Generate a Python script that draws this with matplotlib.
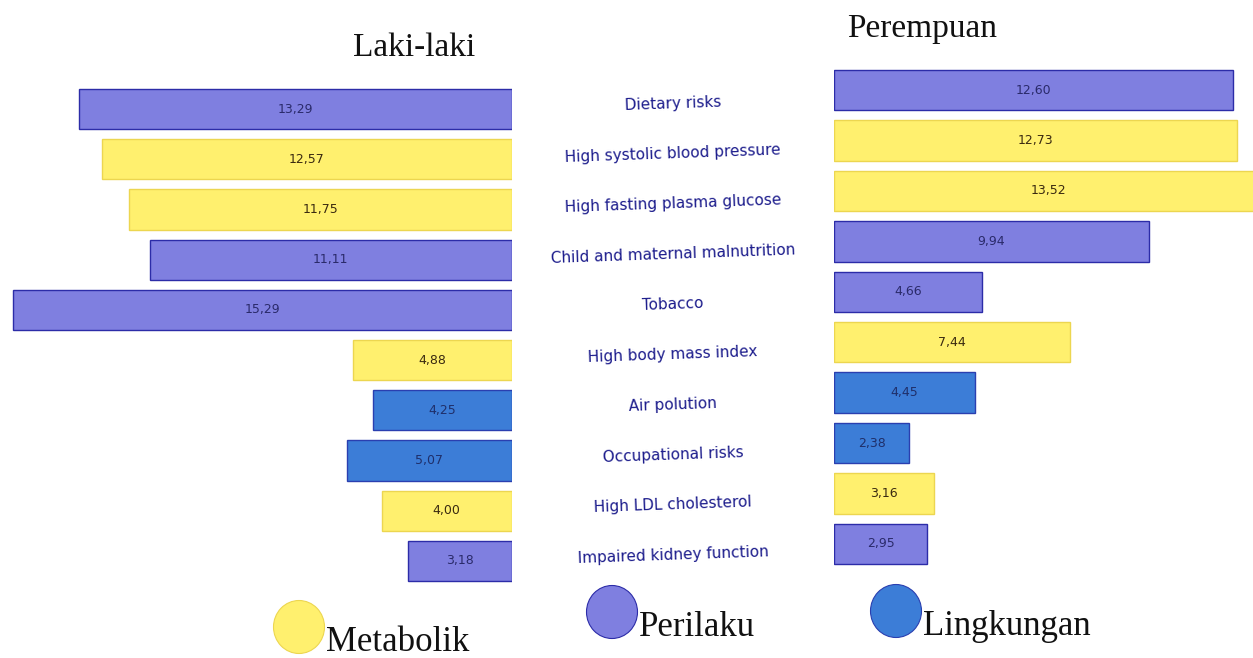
import matplotlib
matplotlib.use("Agg")
import matplotlib.pyplot as plt
from matplotlib.patches import Ellipse

# risk factors, top to bottom
kategori = ["Dietary risks", "High systolic blood pressure", "High fasting plasma glucose",
            "Child and maternal malnutrition", "Tobacco", "High body mass index",
            "Air polution", "Occupational risks", "High LDL cholesterol",
            "Impaired kidney function"]
laki = [13.29, 12.57, 11.75, 11.11, 15.29, 4.88, 4.25, 5.07, 4.00, 3.18]
perempuan = [12.60, 12.73, 13.52, 9.94, 4.66, 7.44, 4.45, 2.38, 3.16, 2.95]
# M = metabolik, P = perilaku, L = lingkungan
jenis = ["P", "M", "M", "P", "P", "M", "L", "L", "M", "P"]
legenda = [("M", "Metabolik"), ("P", "Perilaku"), ("L", "Lingkungan")]

warna = {"M": "#fff06e", "P": "#7f7fe0", "L": "#3c7dd7"}
tepi = {"M": "#ecd650", "P": "#2c2ca8", "L": "#2a3fb0"}
teks = {"M": "#3a2a10", "P": "#2a2a6a", "L": "#1f2f6a"}

W, H = 1253, 658
fig = plt.figure(figsize=(W / 100, H / 100), dpi=100)


def px_axes(x0, y0, x1, y1):
    return fig.add_axes([x0 / W, 1 - y1 / H, (x1 - x0) / W, (y1 - y0) / H])


n = len(kategori)
# left panel (men), bars grow to the left
axl = px_axes(0, 58.8, 512, 611.2)
axl.set_xlim(15.7, 0)
axl.set_ylim(n, -1)
# right panel (women), shifted up a little
axr = px_axes(834, 39.6, W, 594.4)
axr.set_xlim(0, 13.22)
axr.set_ylim(n, -1)

for ax, nilai in [(axl, laki), (axr, perempuan)]:
    for i, (v, j) in enumerate(zip(nilai, jenis)):
        ax.barh(i, v, height=0.8, color=warna[j], edgecolor=tepi[j], linewidth=1.0)
        ax.text(v / 2, i, f"{v:.2f}".replace(".", ","), ha="center", va="center",
                fontsize=9, color=teks[j])
    ax.axis("off")

# category names between the panels
for i, k in enumerate(kategori):
    axl.annotate(k, xy=(0.537, i), xycoords=("figure fraction", "data"),
                 xytext=(0, 4), textcoords="offset points", ha="center", va="center",
                 fontsize=11, color="#1c1c8c", rotation=2)

serif = ["Liberation Serif", "DejaVu Serif"]
fig.text(414 / W, 1 - 48 / H, "Laki-laki", ha="center", va="center",
         fontsize=24, family=serif, color="#111111")
fig.text(922 / W, 1 - 29 / H, "Perempuan", ha="center", va="center",
         fontsize=24, family=serif, color="#111111")

# hand-made legend with large circles
ov = fig.add_axes([0, 0, 1, 1])
ov.set_xlim(0, W)
ov.set_ylim(H, 0)
ov.axis("off")
pos = [(299, 627), (612, 612), (896, 611)]
for (x, y), (j, nama) in zip(pos, legenda):
    ov.add_patch(Ellipse((x, y), 51, 53, facecolor=warna[j], edgecolor=tepi[j],
                         linewidth=0.8))
    ov.text(x + 27, y + 24, nama, ha="left", va="baseline", fontsize=25,
            family=serif, color="#111111")

fig.savefig("out.png", dpi=100)
